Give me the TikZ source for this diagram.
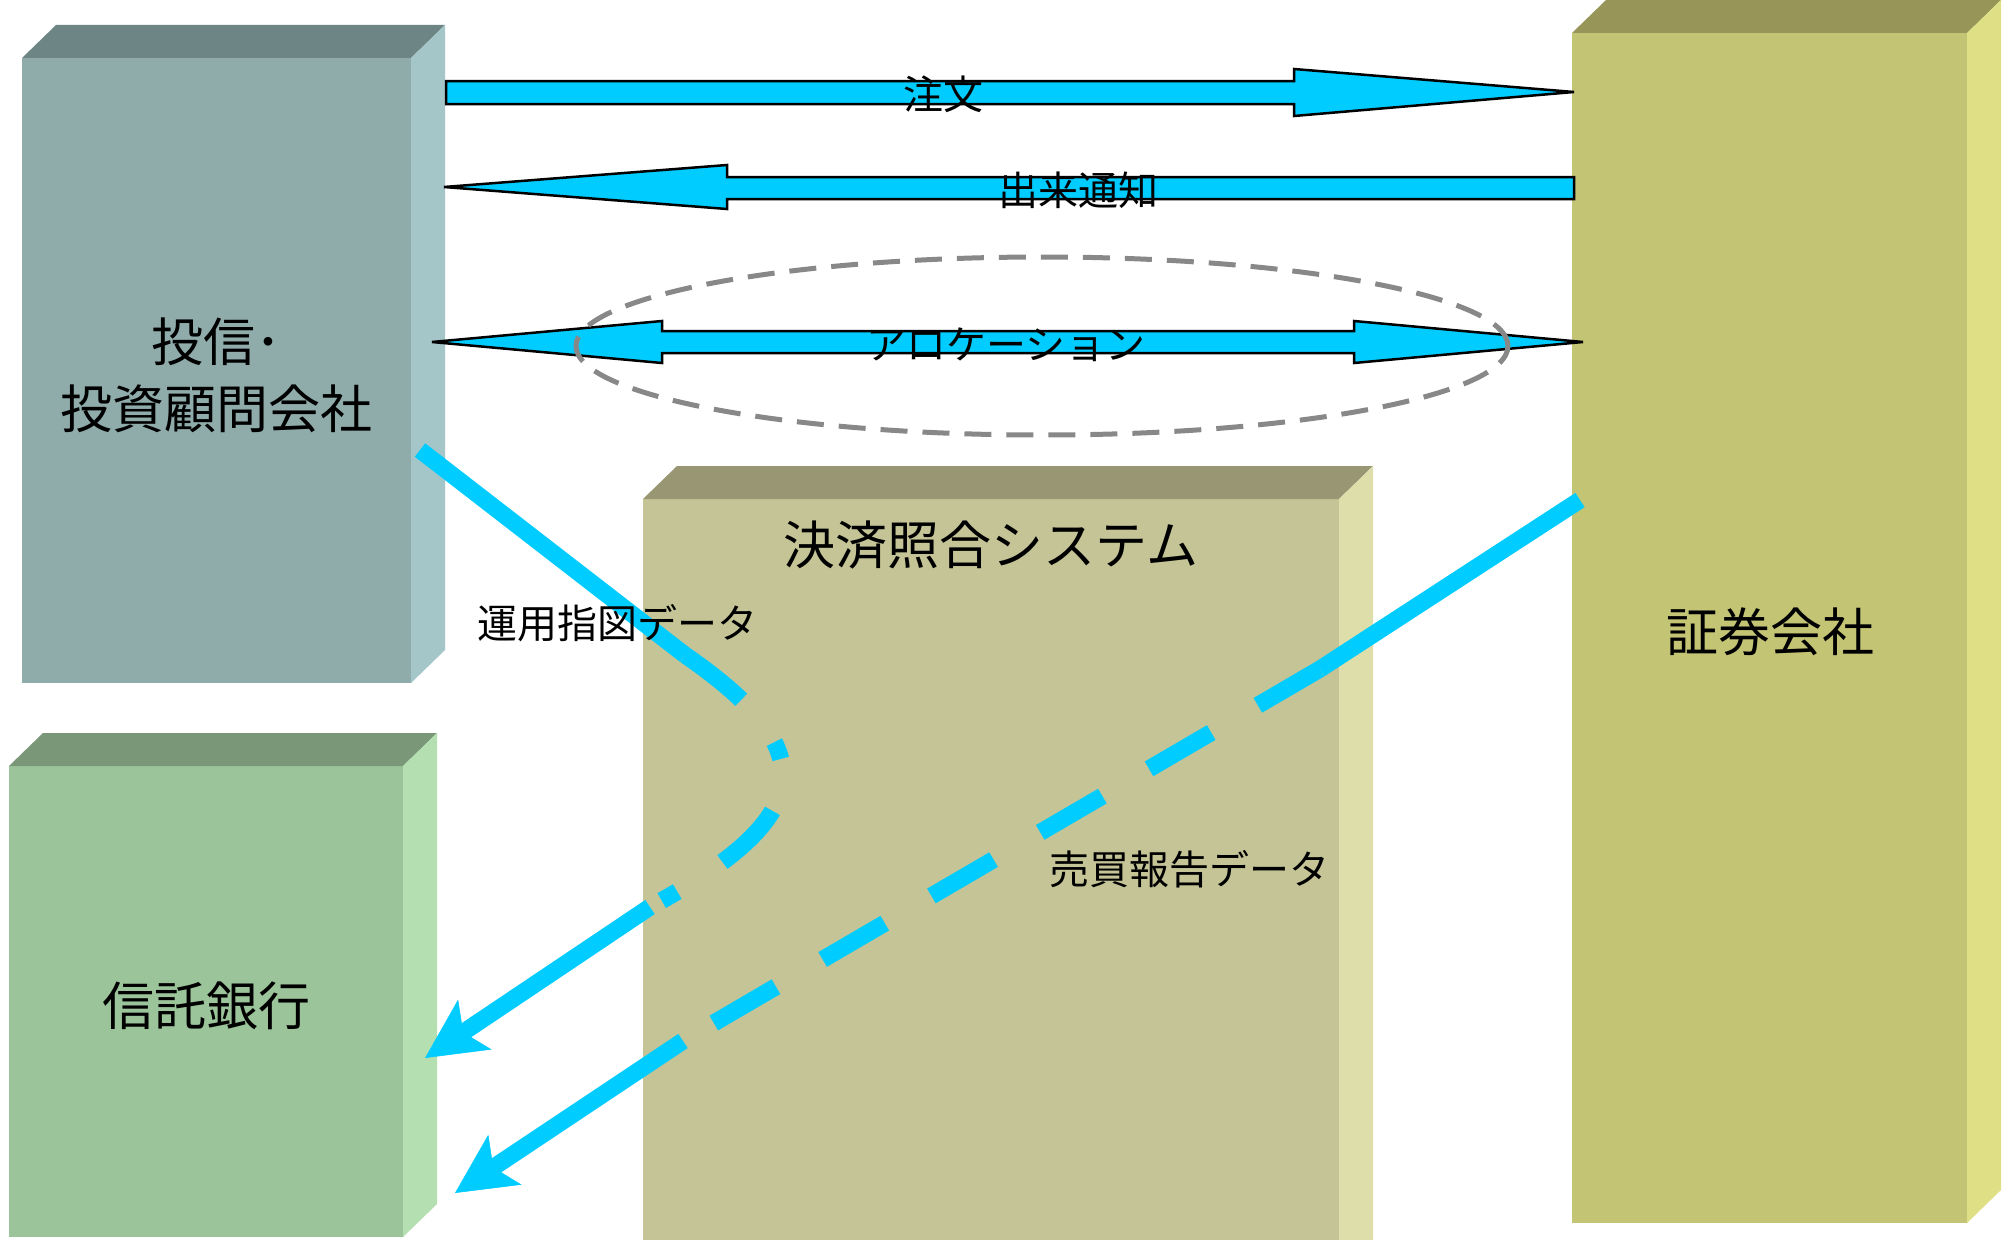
\documentclass[tikz,border=0pt]{standalone}
\usepackage{fontspec}
\setmainfont{Noto Sans CJK JP}
\usetikzlibrary{arrows.meta,calc}
\definecolor{cyanA}{HTML}{00CCFF}
\definecolor{ringgray}{HTML}{888888}
\definecolor{bAfront}{HTML}{8FACAB}
\definecolor{bAtop}{HTML}{6E8585}
\definecolor{bAside}{HTML}{A5C6C8}
\definecolor{bBfront}{HTML}{9CC49A}
\definecolor{bBtop}{HTML}{7A9778}
\definecolor{bBside}{HTML}{B3DFB1}
\definecolor{bCfront}{HTML}{C4C497}
\definecolor{bCtop}{HTML}{989673}
\definecolor{bCside}{HTML}{DEDEAA}
\definecolor{bDfront}{HTML}{C3C474}
\definecolor{bDtop}{HTML}{989558}
\definecolor{bDside}{HTML}{DFDF86}
\tikzset{
  boxfront/.style={rectangle, inner sep=0pt, outer sep=0pt, draw=none},
  bigtext/.style={font=\fontsize{52}{67}\selectfont, align=center, inner sep=0pt},
  smalltext/.style={font=\fontsize{40}{48}\selectfont, inner sep=0pt},
  blockarrow/.style={fill=cyanA, draw=black, line width=2.5pt, line join=miter},
  flow/.style={draw=cyanA, line width=17pt, line cap=butt},
  flowtip/.style={-{Stealth[length=60pt,width=60pt,inset=14pt,line width=0.5pt]}},
  allocring/.style={draw=ringgray, line width=5pt, dash pattern=on 27pt off 15pt},
}
\newcommand\boxfaces[3]{%
  \fill[#2] (#1.north west) -- ++(34,-33) -- ($(#1.north east)+(34,-33)$) -- (#1.north east) -- cycle;
  \fill[#3] (#1.north east) -- ++(34,-33) -- ($(#1.south east)+(34,-33)$) -- (#1.south east) -- cycle;
}
\begin{document}
\begin{tikzpicture}[x=1pt,y=-1pt]
\path[use as bounding box, clip] (0,0) rectangle (2015,1239);
\fill[white] (0,0) rectangle (2015,1239);

% boxes
\node[boxfront, fill=bAfront, minimum width=389pt, minimum height=625pt] (b1) at (216.5,370.5) {};
\boxfaces{b1}{bAtop}{bAside}
\node[boxfront, fill=bBfront, minimum width=394pt, minimum height=471pt] (b2) at (206,1001.5) {};
\boxfaces{b2}{bBtop}{bBside}
\node[boxfront, fill=bCfront, minimum width=696pt, minimum height=791pt] (b3) at (991,894.5) {};
\boxfaces{b3}{bCtop}{bCside}
\node[boxfront, fill=bDfront, minimum width=395pt, minimum height=1190pt] (b4) at (1769.5,628) {};
\boxfaces{b4}{bDtop}{bDside}

% box texts
\node[bigtext] (t1) at (216,375) {投信･\\投資顧問会社};
\node[bigtext] (t2) at (206,1006) {信託銀行};
\node[bigtext] (t3) at (991,545) {決済照合システム};
\node[bigtext] (t4) at (1770,632) {証券会社};

% block arrows
\draw[blockarrow] (446,81) -- (1294,81) -- (1294,69) -- (1574,92) -- (1294,116) -- (1294,104) -- (446,104) -- cycle;
\draw[blockarrow] (1574,177) -- (727,177) -- (727,165) -- (444,187) -- (727,209) -- (727,199) -- (1574,199) -- cycle;
\draw[blockarrow] (432,342) -- (662,321) -- (662,331) -- (1354,331) -- (1354,321) -- (1583,342) -- (1354,363) -- (1354,353) -- (662,353) -- (662,363) -- cycle;

% allocation ring
\coordinate (ring) at (1042,346);
\draw[allocring] (ring) ellipse [x radius=466pt, y radius=89pt];

% flow: 運用指図データ
\coordinate (u0) at (420,450);
\coordinate (u1) at (685,655);
\coordinate (u2) at (650,907);
\coordinate (u3) at (425,1058);
\draw[flow] (u0) -- (u1);
\draw[flow, dash pattern=on 72pt off 54pt on 18pt off 54pt] (u1) .. controls (830,755) and (810,820) .. (u2);
\draw[flow, flowtip] (u2) -- (u3);

% flow: 売買報告データ
\coordinate (s0) at (1580,500);
\coordinate (s1) at (1320,669);
\coordinate (s2) at (683,1041);
\coordinate (s3) at (455,1193);
\draw[flow] (s0) -- (s1);
\draw[flow, dash pattern=on 72pt off 54pt] (s1) -- (s2);
\draw[flow, flowtip] (s2) -- (s3);

% labels
\node[smalltext] (l1) at (943,94) {注文};
\node[smalltext] (l2) at (1078,190) {出来通知};
\node[smalltext] (l3) at (1006,345) {アロケーション};
\node[smalltext] (l4) at (617,623) {運用指図データ};
\node[smalltext] (l5) at (1189,869) {売買報告データ};
\end{tikzpicture}
\end{document}
